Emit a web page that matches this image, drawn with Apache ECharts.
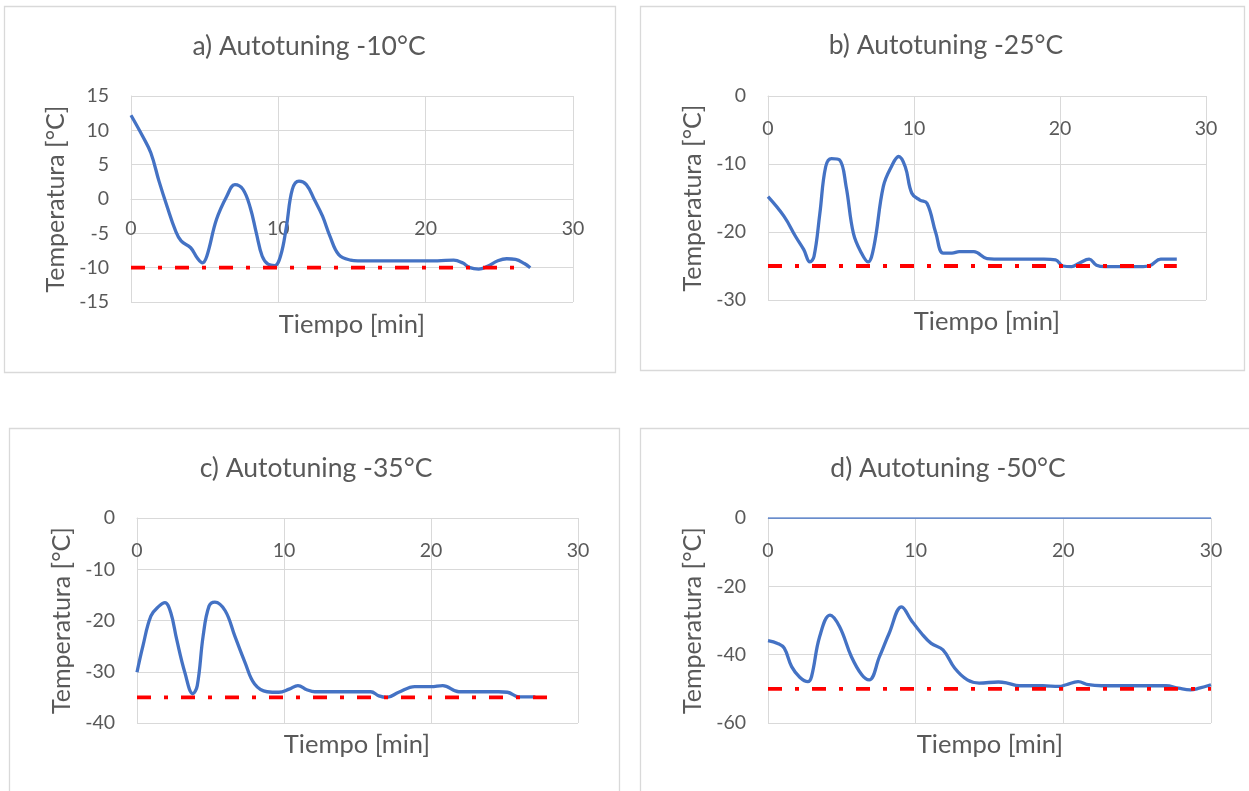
<!DOCTYPE html>
<html>
<head>
<meta charset="utf-8">
<script src="https://cdn.jsdelivr.net/npm/echarts@6/dist/echarts.min.js"></script>
<style>html,body{margin:0;padding:0;background:#fff;}#c{width:1249px;height:791px;}</style>
</head>
<body>
<div id="c"></div>
<script>
// ---- Data ----
const titles = ['a) Autotuning -10°C', 'b) Autotuning -25°C', 'c) Autotuning -35°C', 'd) Autotuning -50°C'];
const xAxisName = 'Tiempo [min]';
const yAxisName = 'Temperatura [°C]';

const aTime = [0, 0.8, 1.35, 1.9, 2.45, 3, 3.4, 4.05, 4.5, 4.85, 5.15, 5.8, 6.5, 7.05, 7.6, 8.1, 8.5, 8.9, 9.3, 9.75, 10.15, 10.55, 10.95, 11.4, 11.9, 12.45, 13, 13.5, 14.1, 14.9, 15.4, 18, 20.8, 21.9, 22.5, 23, 23.6, 24.2, 24.9, 25.5, 26.1, 26.7, 27.1];
const aTemp = [12.2, 9.1, 6.7, 2.6, -1.1, -4.5, -6.1, -7.1, -8.6, -9.3, -8.3, -3, 0.4, 2.1, 1.4, -1.3, -4.9, -8.3, -9.5, -9.7, -8.3, -4, 1.4, 2.6, 2.1, -0.1, -2.5, -5.4, -8.1, -8.9, -9, -9, -9, -8.9, -9.3, -10, -10.2, -9.8, -9, -8.7, -8.8, -9.4, -10];
const aSetTime = [0, 26];
const aSetTemp = [-10, -10];

const bTime = [0, 1.1, 1.9, 2.45, 2.87, 3.15, 3.55, 3.95, 4.35, 4.9, 5.35, 5.85, 6.4, 6.85, 7.25, 7.9, 8.45, 8.95, 9.4, 9.85, 10.4, 10.9, 11.5, 12, 12.6, 13.1, 14.1, 15, 16.1, 18.9, 19.7, 20.2, 20.8, 21.3, 22, 22.5, 23.1, 24, 25.7, 26.2, 26.9, 28];
const bTemp = [-14.8, -17.7, -20.7, -22.6, -24.4, -23.6, -17.3, -10.4, -9.2, -9.4, -13.3, -20.2, -23.1, -24.4, -22.2, -13.3, -10.4, -8.9, -10.4, -14.3, -15.3, -15.8, -20.2, -23.1, -23.1, -22.9, -22.9, -23.9, -24, -24, -24.1, -25, -25.1, -24.6, -24, -24.9, -25.1, -25.1, -25.1, -24.9, -24, -24];
const bSetTime = [0, 28];
const bSetTemp = [-25, -25];

const cTime = [0, 0.4, 0.95, 1.5, 1.9, 2.3, 2.7, 3.25, 3.8, 4.1, 4.5, 4.9, 5.3, 6, 6.65, 7.35, 8, 8.85, 9.65, 10.35, 10.95, 11.55, 12.1, 13.7, 15.9, 16.45, 17, 17.8, 18.9, 20, 20.8, 21.9, 24.6, 25.2, 26, 27.1];
const cTemp = [-30.1, -25, -19.1, -17.2, -16.5, -18.5, -23.7, -30.1, -34.3, -32.7, -23, -17.2, -16.4, -18.1, -23, -28.2, -32.4, -33.9, -34, -33.4, -32.7, -33.5, -33.9, -33.9, -33.9, -34.7, -35, -34, -32.9, -32.9, -32.7, -33.9, -33.9, -34, -34.9, -34.9];
const cSetTime = [0, 28];
const cSetTemp = [-35, -35];

const dTime = [0, 0.65, 1.1, 1.6, 2.15, 2.7, 2.95, 3.5, 4.2, 4.85, 5.65, 6.35, 6.85, 7.55, 8.2, 9.05, 9.7, 10.4, 11.05, 11.85, 12.65, 13.5, 14.3, 15.6, 16.2, 17, 18.6, 19.7, 20.2, 21, 21.7, 22.6, 25.3, 26.95, 27.8, 28.6, 29.2, 30];
const dTemp = [-35.9, -36.7, -38.1, -43.5, -46.6, -47.9, -46.4, -34.7, -28.4, -31.8, -40.6, -45.9, -47.4, -40.6, -33.8, -26, -29.9, -33.8, -36.7, -38.6, -44, -47.4, -48.3, -48, -48.3, -49.1, -49.1, -49.3, -48.8, -47.9, -48.8, -49.1, -49.1, -49.1, -49.8, -50.3, -49.8, -48.8];
const dSetTime = [0, 30];
const dSetTemp = [-50, -50];
const dZeroTime = [0, 30];
const dZeroTemp = [0, 0];

const xTicks = {min: 0, max: 30, interval: 10};
const yRanges = [
  {min: -15, max: 15, interval: 5},
  {min: -30, max: 0, interval: 10},
  {min: -40, max: 0, interval: 10},
  {min: -60, max: 0, interval: 20}
];

// ---- Layout / styles ----
const FONT = 'Lato';
const TXT = '#595959';
const GRIDC = '#d9d9d9';
const BLUE = '#4472C4';
const RED = '#FF0000';

const zip = (xs, ys) => xs.map((x, i) => [x, ys[i]]);

const grids = [
  {left: 131, top: 96, width: 442, height: 206},
  {left: 768, top: 96, width: 438, height: 204},
  {left: 137, top: 518, width: 441, height: 205},
  {left: 768, top: 518, width: 443, height: 205}
];
const boxes = [
  {x: 4, y: 6, w: 611, h: 366},
  {x: 640, y: 6, w: 604, h: 364},
  {x: 9, y: 428, w: 610, h: 380},
  {x: 640, y: 428, w: 620, h: 380}
];
const titlePos = [[309, 46], [946, 45], [316, 468], [948, 468]];
const xNamePos = [[352, 325], [987, 322], [357, 745], [990, 745]];

// x axis crosses the y axis at 0: panel a in the middle, others at the top
const xAxes = grids.map((g, i) => {
  const r = yRanges[i];
  const cross = r.max === 0;
  return {
    type: 'value', gridIndex: i, min: xTicks.min, max: xTicks.max, interval: xTicks.interval,
    position: cross ? 'top' : 'bottom',
    offset: cross ? 0 : -g.height * (0 - r.min) / (r.max - r.min),
    axisLine: {show: true, onZero: false, lineStyle: {color: GRIDC, width: 1}},
    axisTick: {show: false},
    axisLabel: {color: TXT, fontFamily: FONT, fontSize: 19.5, margin: cross ? -43 : 20, showMinLabel: true, showMaxLabel: true},
    splitLine: {show: true, lineStyle: {color: GRIDC, width: 1}}
  };
});
const yAxes = grids.map((g, i) => ({
  type: 'value', gridIndex: i, min: yRanges[i].min, max: yRanges[i].max, interval: yRanges[i].interval,
  name: yAxisName, nameLocation: 'middle', nameGap: 63,
  nameTextStyle: {color: TXT, fontFamily: FONT, fontSize: 25},
  axisLine: {show: true, onZero: false, lineStyle: {color: GRIDC, width: 1}},
  axisTick: {show: false},
  axisLabel: {color: TXT, fontFamily: FONT, fontSize: 19.5, margin: 22, showMinLabel: true, showMaxLabel: true},
  splitLine: {show: true, lineStyle: {color: GRIDC, width: 1}}
}));

const meas = [zip(aTime, aTemp), zip(bTime, bTemp), zip(cTime, cTemp), zip(dTime, dTemp)];
const setp = [zip(aSetTime, aSetTemp), zip(bSetTime, bSetTemp), zip(cSetTime, cSetTemp), zip(dSetTime, dSetTemp)];

const series = [];
meas.forEach((d, i) => {
  series.push({type: 'line', xAxisIndex: i, yAxisIndex: i, data: d, smooth: 0.4, showSymbol: false,
    lineStyle: {color: BLUE, width: 3.3}, z: 3, silent: true});
});
setp.forEach((d, i) => {
  series.push({type: 'line', xAxisIndex: i, yAxisIndex: i, data: d, showSymbol: false,
    lineStyle: {color: RED, width: 3.8, type: [14, 13, 4, 13], cap: 'butt'}, z: 4, silent: true});
});
series.push({type: 'line', xAxisIndex: 3, yAxisIndex: 3, data: zip(dZeroTime, dZeroTemp), showSymbol: false,
  lineStyle: {color: BLUE, width: 1.5}, z: 3, silent: true});

const graphics = [];
boxes.forEach(b => graphics.push({type: 'rect', shape: {x: b.x + 0.5, y: b.y + 0.5, width: b.w, height: b.h},
  style: {fill: 'none', stroke: GRIDC, lineWidth: 1.3}, z: -10, silent: true}));
titles.forEach((t, i) => graphics.push({type: 'text', x: titlePos[i][0], y: titlePos[i][1],
  style: {text: t, fill: TXT, font: '26.5px ' + FONT, align: 'center', verticalAlign: 'middle'}, silent: true}));
xNamePos.forEach((p, i) => graphics.push({type: 'text', x: p[0], y: p[1],
  style: {text: xAxisName, fill: TXT, font: '25.5px ' + FONT, align: 'center', verticalAlign: 'middle'}, silent: true}));

const chart = echarts.init(document.getElementById('c'), null, {renderer: 'canvas'});
chart.setOption({
  backgroundColor: '#ffffff',
  animation: false,
  grid: grids,
  xAxis: xAxes,
  yAxis: yAxes,
  series: series,
  graphic: graphics
});
</script>
</body>
</html>
